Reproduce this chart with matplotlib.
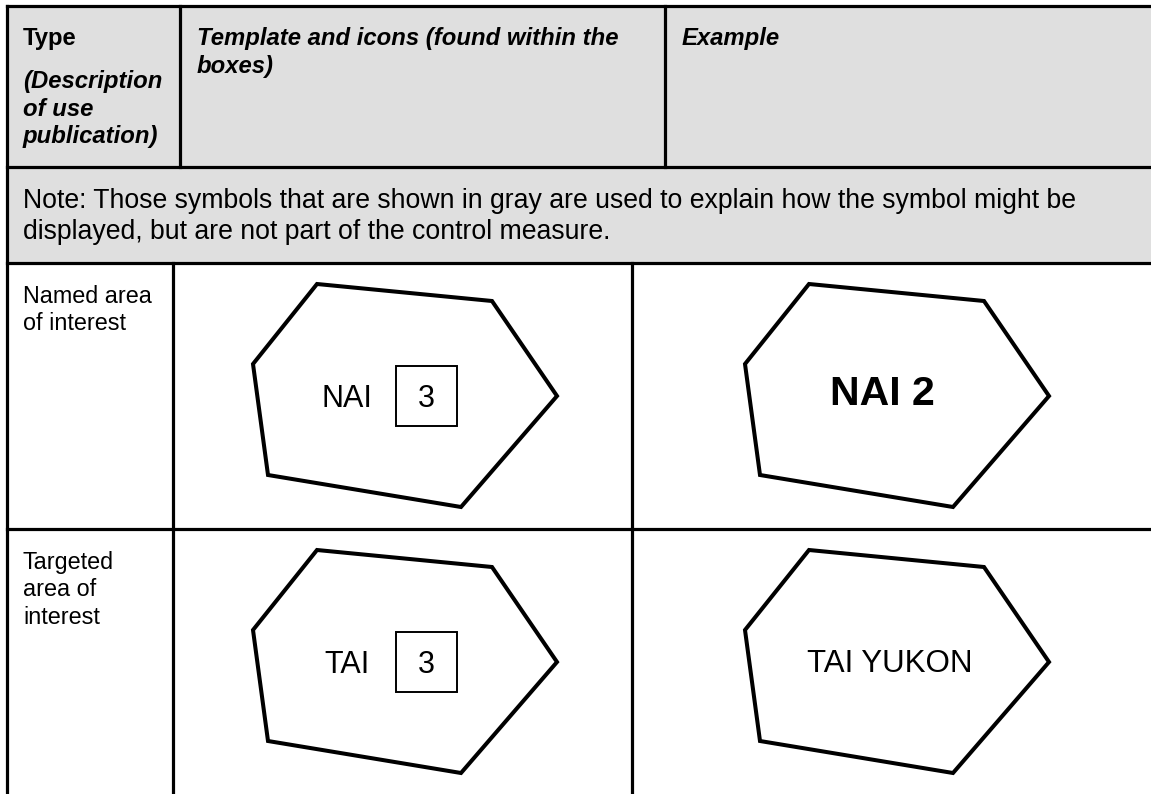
import matplotlib
matplotlib.use("Agg")
import matplotlib.pyplot as plt
from matplotlib.patches import Polygon, Rectangle

plt.rcParams['font.family'] = ['Liberation Sans', 'DejaVu Sans']

# table content
header_type = "Type"
header_desc = ["(Description", "of use", "publication)"]
header_template = ["Template and icons (found within the", "boxes)"]
header_example = "Example"
note_lines = ["Note: Those symbols that are shown in gray are used to explain how the symbol might be",
              "displayed, but are not part of the control measure."]

types = [["Named area", "of interest"], ["Targeted", "area of", "interest"]]
template_labels = ["NAI", "TAI"]
template_numbers = ["3", "3"]
examples = ["NAI 2", "TAI YUKON"]
example_bold = [True, False]

# hexagon outline, offsets from its centre (pixels)
hex_dx = [-88, 87, 152, 56, -137, -152]
hex_dy = [-112, -95, 0, 111, 79, -32]

W, H = 1151, 794
gray = '#dfdfdf'

fig = plt.figure(figsize=(W / 100, H / 100), dpi=100)
ax = fig.add_axes([0, 0, 1, 1])
ax.set_xlim(0, W)
ax.set_ylim(H, 0)
ax.axis('off')


def lines(x, y0, rows, step, **kw):
    # one text per line so every baseline sits where we want it
    for k, s in enumerate(rows):
        ax.text(x, y0 + k * step, s, va='baseline', **kw)


# grid geometry
left, top = 7.5, 6
head_bot, note_bot, row1_bot = 167, 263, 529
head_cols = [180, 665]
body_cols = [173, 632]
row_tops = [note_bot, row1_bot]

ax.add_patch(Rectangle((left, top), W - left, note_bot - top, color=gray, zorder=0))

lw = 2.3
ax.plot([left, W], [top, top], color='k', lw=lw, solid_capstyle='projecting')
ax.plot([left, left], [top, H], color='k', lw=lw, solid_capstyle='projecting')
for y in [head_bot, note_bot, row1_bot]:
    ax.plot([left, W], [y, y], color='k', lw=lw)
for x in head_cols:
    ax.plot([x, x], [top, head_bot], color='k', lw=lw)
for x in body_cols:
    ax.plot([x, x], [note_bot, H], color='k', lw=lw)

fs = 16.8
bi = dict(fontsize=17.2, fontweight='bold', style='italic')
# header
ax.text(23, 45, header_type, fontsize=17.2, fontweight='bold', va='baseline')
lines(23, 88, header_desc, 27.5, **bi)
lines(197, 45, header_template, 27.5, **bi)
ax.text(682, 45, header_example, va='baseline', **bi)
lines(23, 208, note_lines, 31, fontsize=19.2)

# body rows
tmpl_cx, exmp_cx = 405, 897
for i, rt in enumerate(row_tops):
    cy = rt + 133
    lines(23, rt + 40, types[i], 27.3, fontsize=fs)
    for cx in (tmpl_cx, exmp_cx):
        pts = [(cx + dx, cy + dy) for dx, dy in zip(hex_dx, hex_dy)]
        ax.add_patch(Polygon(pts, closed=True, fill=False, ec='k', lw=2.9,
                             joinstyle='miter'))
    # template: label plus number box
    ax.text(tmpl_cx - 58, cy + 11, template_labels[i], fontsize=22, ha='center', va='baseline')
    ax.add_patch(Rectangle((tmpl_cx - 9, cy - 30), 61, 60, fill=False, ec='k', lw=1.4))
    ax.text(tmpl_cx + 21, cy + 11, template_numbers[i], fontsize=22, ha='center', va='baseline')
    # example
    if example_bold[i]:
        ax.text(exmp_cx - 15, cy + 9, examples[i], fontsize=29.5, fontweight='bold',
                ha='center', va='baseline')
    else:
        ax.text(exmp_cx - 7, cy + 10, examples[i], fontsize=22.5, ha='center', va='baseline')

fig.savefig('out.png', dpi=100)
